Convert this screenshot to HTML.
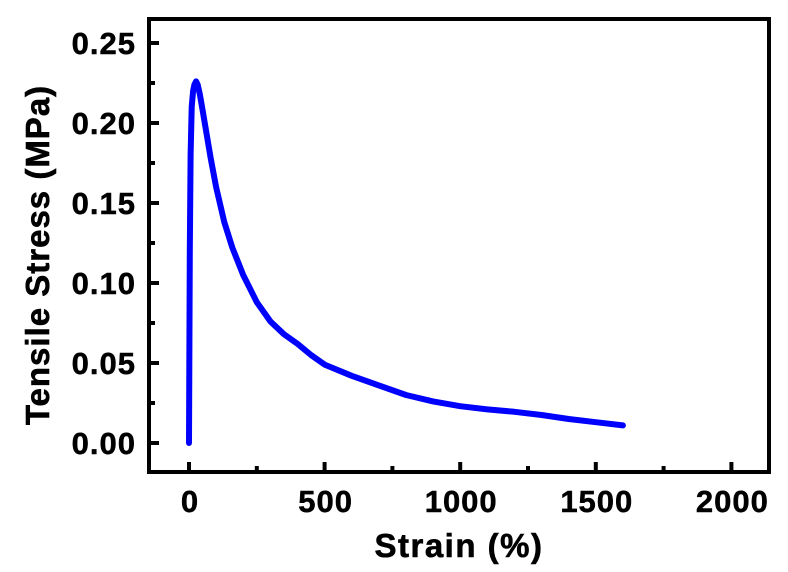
<!DOCTYPE html>
<html><head><meta charset="utf-8"><style>
body{margin:0;background:#fff}
svg{display:block;font-family:"Liberation Sans",Arial,sans-serif;font-weight:bold}
</style></head><body>
<svg id="chart" width="788" height="572" viewBox="0 0 788 572">
<g id="ticks"></g>
<path id="curve" fill="none" stroke="#0000ff" stroke-width="6" stroke-linejoin="round" stroke-linecap="round"/>
<rect x="149" y="19" width="620" height="453" fill="none" stroke="#000" stroke-width="4"/>
<text x="459" y="557" font-size="33" letter-spacing="1.5" stroke="#000" stroke-width="0.6" text-anchor="middle">Strain (%)</text>
<text transform="translate(49,255) rotate(-90)" font-size="33" letter-spacing="1" stroke="#000" stroke-width="0.6" text-anchor="middle">Tensile Stress (MPa)</text>
</svg>
<script>
const strain=[0,3,6,10,15,20,26,32,40,50,60,80,100,130,160,200,250,300,350,400,450,500,600,700,800,900,1000,1100,1200,1300,1400,1500,1600];
const stress=[0,0.12,0.18,0.21,0.22,0.224,0.226,0.224,0.218,0.208,0.198,0.178,0.16,0.138,0.122,0.105,0.088,0.076,0.068,0.062,0.055,0.049,0.042,0.036,0.030,0.026,0.023,0.021,0.0195,0.0175,0.015,0.013,0.011];
const xTicks=[0,500,1000,1500,2000];
const yTicks=[0,0.05,0.10,0.15,0.20,0.25];
const X=v=>189+v*0.2712;
const Y=v=>443-v*1600;
const ns="http://www.w3.org/2000/svg";
const g=document.getElementById('ticks');
function line(x1,y1,x2,y2,name){const l=document.createElementNS(ns,'line');
l.setAttribute('x1',x1);l.setAttribute('y1',y1);l.setAttribute('x2',x2);l.setAttribute('y2',y2);
l.setAttribute('stroke','#000');l.setAttribute('stroke-width','4');


g.appendChild(l);}
function text(x,y,s,anchor,name){const t=document.createElementNS(ns,'text');
t.setAttribute('x',x);t.setAttribute('y',y);t.setAttribute('font-size','31');t.setAttribute('text-anchor',anchor);
t.setAttribute('stroke','#000');t.setAttribute('stroke-width','0.5');t.setAttribute('letter-spacing','1');t.textContent=s;


g.appendChild(t);}
xTicks.forEach((v,i)=>{line(X(v),472,X(v),462,'x-tick');text(X(v)+1,512,String(v),'middle','x-tick-label');
if(i<xTicks.length-1){const m=v+250;line(X(m),472,X(m),466,'x-minor-tick');}});
yTicks.forEach((v,i)=>{line(149,Y(v),159,Y(v),'y-tick');text(136,Y(v)+11,v.toFixed(2),'end','y-tick-label');
if(i<yTicks.length-1){const m=v+0.025;line(149,Y(m),155,Y(m),'y-minor-tick');}});
document.getElementById('curve').setAttribute('d',strain.map((s,i)=>(i?'L':'M')+X(s).toFixed(1)+','+Y(stress[i]).toFixed(1)).join(' '));
</script>
</body></html>
